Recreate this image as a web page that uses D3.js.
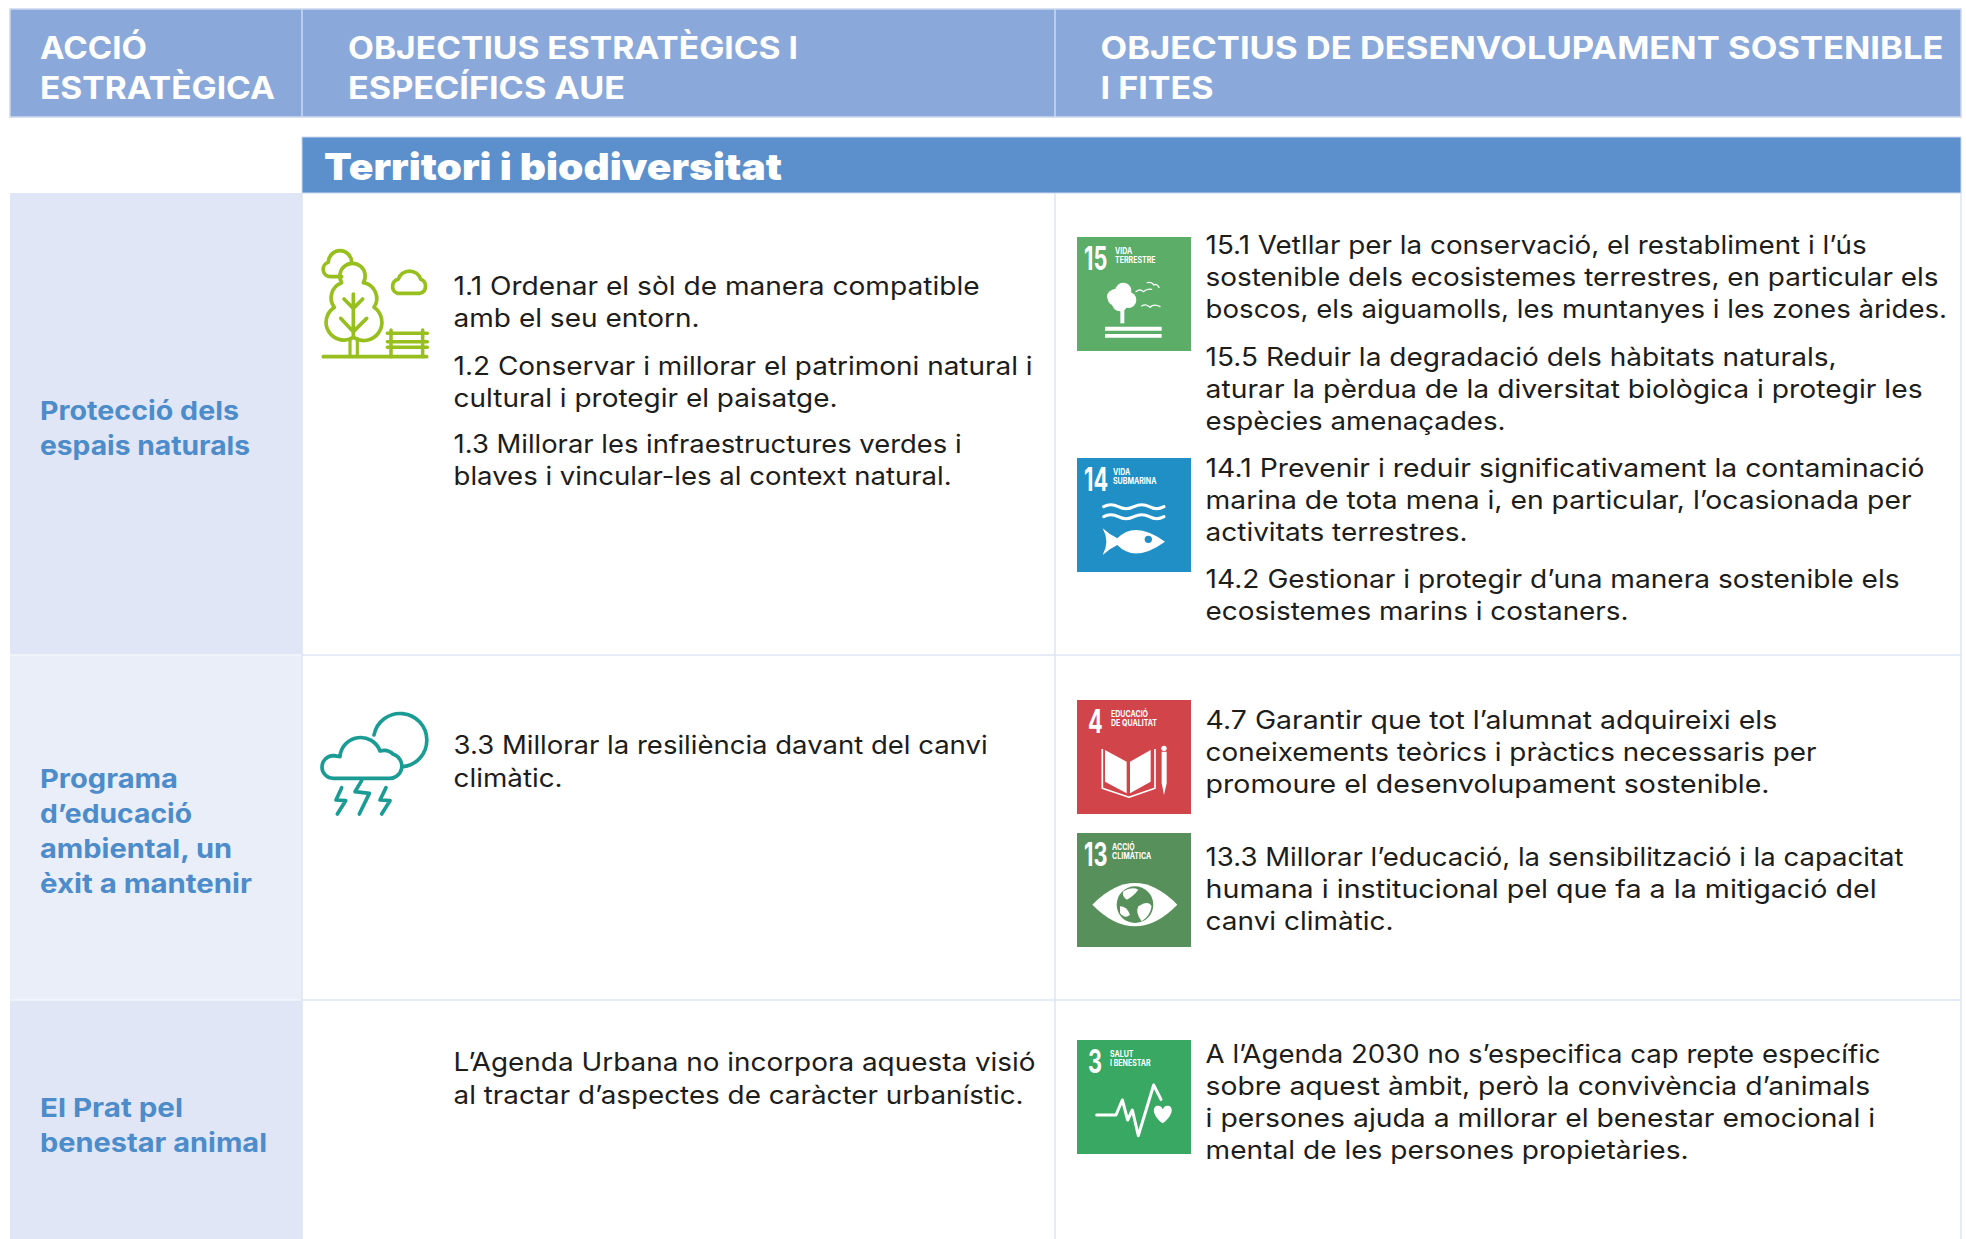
<!DOCTYPE html>
<html>
<head>
<meta charset="utf-8">
<script src="https://cdn.jsdelivr.net/npm/d3@7"></script>
<style>
  html, body { margin: 0; background: #fff; }
  svg { display: block; }
  text { font-family: Inter, "Noto Sans", sans-serif; }
</style>
</head>
<body>
<div id="chart"></div>
<script>
// table contents
var headers = [
  ["ACCIÓ", "ESTRATÈGICA"],
  ["OBJECTIUS ESTRATÈGICS I", "ESPECÍFICS AUE"],
  ["OBJECTIUS DE DESENVOLUPAMENT SOSTENIBLE", "I FITES"]
];
var bandTitle = "Territori i biodiversitat";
var actions = [
  ["Protecció dels", "espais naturals"],
  ["Programa", "d’educació", "ambiental, un", "èxit a mantenir"],
  ["El Prat pel", "benestar animal"]
];
var aueText = [
  ["1.1 Ordenar el sòl de manera compatible", "amb el seu entorn."],
  ["1.2 Conservar i millorar el patrimoni natural i", "cultural i protegir el paisatge."],
  ["1.3 Millorar les infraestructures verdes i", "blaves i vincular-les al context natural."],
  ["3.3 Millorar la resiliència davant del canvi", "climàtic."],
  ["L’Agenda Urbana no incorpora aquesta visió", "al tractar d’aspectes de caràcter urbanístic."]
];
var odsText = [
  ["15.1 Vetllar per la conservació, el restabliment i l’ús", "sostenible dels ecosistemes terrestres, en particular els", "boscos, els aiguamolls, les muntanyes i les zones àrides."],
  ["15.5 Reduir la degradació dels hàbitats naturals,", "aturar la pèrdua de la diversitat biològica i protegir les", "espècies amenaçades."],
  ["14.1 Prevenir i reduir significativament la contaminació", "marina de tota mena i, en particular, l’ocasionada per", "activitats terrestres."],
  ["14.2 Gestionar i protegir d’una manera sostenible els", "ecosistemes marins i costaners."],
  ["4.7 Garantir que tot l’alumnat adquireixi els", "coneixements teòrics i pràctics necessaris per", "promoure el desenvolupament sostenible."],
  ["13.3 Millorar l’educació, la sensibilització i la capacitat", "humana i institucional pel que fa a la mitigació del", "canvi climàtic."],
  ["A l’Agenda 2030 no s’especifica cap repte específic", "sobre aquest àmbit, però la convivència d’animals", "i persones ajuda a millorar el benestar emocional i", "mental de les persones propietàries."]
];
var tileNumbers = ["15", "14", "4", "13", "3"];
var tileLabels = [["VIDA", "TERRESTRE"], ["VIDA", "SUBMARINA"], ["EDUCACIÓ", "DE QUALITAT"], ["ACCIÓ", "CLIMÀTICA"], ["SALUT", "I BENESTAR"]];
var tileColors = ["#5bad67", "#1f8fc6", "#d1444a", "#57905a", "#38a862"];

// measured line lengths: Montserrat isn't installed, so each line gets stretched to its original end
var headerWidths = [[107, 235], [450, 277], [843, 113]];
var actionWidths = [[199, 210], [138, 152, 192, 212], [143, 227]];
var aueWidths = [[526, 246], [579, 384], [508, 498], [534, 109], [582, 570]];
var odsWidths = [[661, 733, 741.5], [631, 717, 300], [719, 706, 262], [694, 423],
                 [571.6, 611, 564], [698, 671, 188], [675, 664.5, 669.5, 483]];

var W = 1966, H = 1239;
var colX = [10, 302, 1055, 1961];
var rowY = [193, 655, 1000, H];
var RULE = "#dde4f5";

var svg = d3.select("#chart").append("svg").attr("width", W).attr("height", H);

function fitted(g, x, y, t, width, size, weight, fill) {
  return g.append("text").attr("x", x).attr("y", y).attr("fill", fill)
    .attr("font-size", size).attr("font-weight", weight)
    .attr("textLength", width).attr("lengthAdjust", "spacingAndGlyphs").text(t);
}

// header + band
svg.append("rect").attr("x", colX[0]).attr("y", 9).attr("width", colX[3] - colX[0]).attr("height", 108)
  .attr("fill", "#8aa9da").attr("stroke", "#ccd8ee").attr("stroke-width", 1.5);
[colX[1], colX[2]].forEach(function (x) {
  svg.append("line").attr("x1", x).attr("x2", x).attr("y1", 9).attr("y2", 117).attr("stroke", "#ccd8ee").attr("stroke-width", 1.5);
});
svg.append("rect").attr("x", colX[1]).attr("y", 137).attr("width", colX[3] - colX[1]).attr("height", 56)
  .attr("fill", "#5b90cc").attr("stroke", "#ccd8ee").attr("stroke-width", 1);

// row shading and rules
svg.selectAll("rect.action").data(actions).join("rect").attr("class", "action")
  .attr("x", colX[0]).attr("width", colX[1] - colX[0])
  .attr("y", function (d, i) { return rowY[i]; })
  .attr("height", function (d, i) { return rowY[i + 1] - rowY[i]; })
  .attr("fill", function (d, i) { return i === 1 ? "#e9eef9" : "#e0e6f6"; });
[1, 2].forEach(function (i) {
  svg.append("line").attr("x1", colX[0]).attr("x2", colX[1]).attr("y1", rowY[i]).attr("y2", rowY[i])
    .attr("stroke", "#f4f6fc").attr("stroke-width", 1.5);
  svg.append("line").attr("x1", colX[1]).attr("x2", colX[3]).attr("y1", rowY[i]).attr("y2", rowY[i])
    .attr("stroke", RULE).attr("stroke-width", 1.5);
});
[colX[1], colX[2], colX[3]].forEach(function (x) {
  svg.append("line").attr("x1", x).attr("x2", x).attr("y1", rowY[0]).attr("y2", H)
    .attr("stroke", RULE).attr("stroke-width", 1.5);
});

// header text
var headX = [40, 348, 1100.5];
headers.forEach(function (lines, c) {
  lines.forEach(function (t, i) {
    fitted(svg, headX[c], 59 + i * 40, t, headerWidths[c][i], 31, 700, "#fff");
  });
});
fitted(svg, 324, 180, bandTitle, 458, 37, 900, "#fff");

// left labels
var actionY = [420, 788, 1117];
actions.forEach(function (lines, r) {
  lines.forEach(function (t, i) {
    fitted(svg, 40, actionY[r] + i * 35, t, actionWidths[r][i], 26, 700, "#4d8ccb");
  });
});

// paragraphs, y = baseline of each paragraph's first line
function block(x, paras, tops, widths, leads) {
  paras.forEach(function (p, k) {
    p.forEach(function (t, i) {
      fitted(svg, x, tops[k] + i * leads[k], t, widths[k][i], 25.5, 400, "#1d1d1b");
    });
  });
}
block(453.6, aueText, [294.5, 374.5, 453, 754, 1070.5], aueWidths, [32.5, 32, 32, 32.5, 33.5]);
block(1205.6, odsText, [253.5, 365.5, 477, 587.5, 729, 866, 1063], odsWidths, [32, 32, 32, 32, 32, 32, 32]);

// icon drawing helpers; tile icons are in 3x local units
function ln(g, d, width, color) {
  return g.append("path").attr("d", d).attr("fill", "none").attr("stroke", color || "#fff")
    .attr("stroke-width", width).attr("stroke-linecap", "round").attr("stroke-linejoin", "round");
}
function solid(g, d, color) {
  return g.append("path").attr("d", d).attr("fill", color || "#fff");
}
function dot(g, x, y, r, color) {
  return g.append("circle").attr("cx", x).attr("cy", y).attr("r", r).attr("fill", color || "#fff");
}
var tileIcons = [
  function (g) {
    dot(g, 168, 232, 26); dot(g, 190, 212, 24); dot(g, 205, 240, 24); dot(g, 180, 250, 24); dot(g, 155, 228, 14);
    solid(g, "M181,270H193V310H181Z");
    solid(g, "M135,320H305V332H135Z");
    solid(g, "M135,342H305V353H135Z");
    ln(g, "M228,215Q240,205 250,215Q262,205 275,208", 4);
    ln(g, "M262,188Q275,185 282,195Q290,190 297,202", 4);
    ln(g, "M245,258Q258,250 270,262Q282,250 300,260", 4);
  },
  function (g) {
    ln(g, "M131,860Q152,848 175,860T222,860T268,860T312,860", 9);
    ln(g, "M131,890Q152,878 175,890T222,890T268,890T312,890", 9);
    solid(g, "M128,925Q150,945 172,955Q225,900 315,965Q225,1030 172,975Q150,985 128,1005Q150,965 128,925Z");
    dot(g, 265, 958, 11, tileColors[1]);
  },
  function (g) {
    solid(g, "M135,210L200,245L200,340L135,305Z");
    solid(g, "M272,210L210,245L210,340L272,305Z");
    ln(g, "M127,207V325L207,352L285,325V207", 5).attr("stroke-linecap", "butt");
    solid(g, "M305,215H320V310L312,345L305,310Z");
    dot(g, 312, 205, 8);
  },
  function (g) {
    solid(g, "M97,675Q225,545 352,675Q225,805 97,675Z");
    dot(g, 225, 675, 55, tileColors[3]);
    solid(g, "M190,635Q215,620 235,630Q220,650 200,660Q185,650 190,635Z");
    solid(g, "M235,680Q265,660 275,680Q270,710 245,725Q225,700 235,680Z");
    solid(g, "M180,680Q200,680 210,705Q195,720 180,700Z");
  },
  function (g) {
    ln(g, "M110,285H168L187,240L203,300L217,270L235,347L281,195L303,238", 9);
    solid(g, "M308,310C270,280 280,255 295,257Q305,258 308,268Q312,258 322,257C337,255 347,280 308,310Z");
  }
];
var tileZoomTop = [51, 714, 60, 460, 60];

// SDG tiles
var tileY = [237, 458, 700, 833, 1040], TILE = 114;
var numberX = [7, 7, 11, 7, 11], labelX = [38, 36, 34, 35, 33];
var tiles = svg.selectAll("g.tile").data(tileNumbers).join("g").attr("class", "tile")
  .attr("transform", function (d, i) { return "translate(1077," + tileY[i] + ")"; });
tiles.append("rect").attr("width", TILE).attr("height", TILE).attr("fill", function (d, i) { return tileColors[i]; });
tiles.append("text").attr("transform", function (d, i) { return "translate(" + numberX[i] + ",33) scale(0.68,1)"; })
  .attr("fill", "#fff").attr("font-family", "Roboto").attr("font-weight", 700).attr("font-size", 32).text(function (d) { return d; });
tiles.each(function (d, i) {
  var g = d3.select(this);
  tileLabels[i].forEach(function (t, k) {
    g.append("text").attr("transform", "translate(" + labelX[i] + "," + (16.5 + k * 9) + ") scale(0.8,1)")
      .attr("fill", "#fff").attr("font-family", "Roboto").attr("font-weight", 700).attr("font-size", 8.8).text(t);
  });
  tileIcons[i](g.append("g").attr("transform", "scale(" + 1 / 3 + ") translate(-51," + (-tileZoomTop[i]) + ")"));
});

// tree + bench pictogram
var LIME = "#97bf1e", TEAL = "#1a9c94";
var tree = svg.append("g").attr("transform", "translate(300,230) scale(" + 1 / 3 + ")");
ln(tree, "M70,380H380", 11, LIME);
ln(tree, "M273,300V380M368,300V380M262,310H382M262,335H382M262,352H382", 10.5, LIME);
ln(tree, "M150,325V380M172,325V380", 9.5, LIME);
ln(tree, "M160,322A50,50 0 0 1 103,232A48,48 0 0 1 125,158A38,38 0 1 1 190,158A48,48 0 0 1 222,232A50,50 0 0 1 160,322", 11, LIME);
ln(tree, "M160,192V320M132,207L160,235L188,207M122,265L160,305L200,265", 11, LIME);
ln(tree, "M125,140H92A22,22 0 0 1 85,97A35,35 0 0 1 155,97", 11, LIME);
ln(tree, "M292,190H360A22,22 0 0 0 362,148A35,35 0 0 0 295,148A22,22 0 0 0 292,190Z", 11, LIME);

// storm pictogram
var storm = svg.append("g").attr("transform", "translate(300,690) scale(" + 1 / 3 + ")");
ln(storm, "M222,135A80,80 0 1 1 310,230", 11, TEAL);
ln(storm, "M100,265H265A37,37 0 0 0 280,193A40,40 0 0 0 240,183A62,62 0 0 0 120,200L100,197A34,34 0 0 0 100,265Z", 11, TEAL);
ln(storm, "M185,272L165,305L208,310L178,372", 11, TEAL);
ln(storm, "M125,293L108,330L137,332L112,372", 11, TEAL);
ln(storm, "M258,293L240,330L270,332L245,372", 11, TEAL);
</script>
</body>
</html>
